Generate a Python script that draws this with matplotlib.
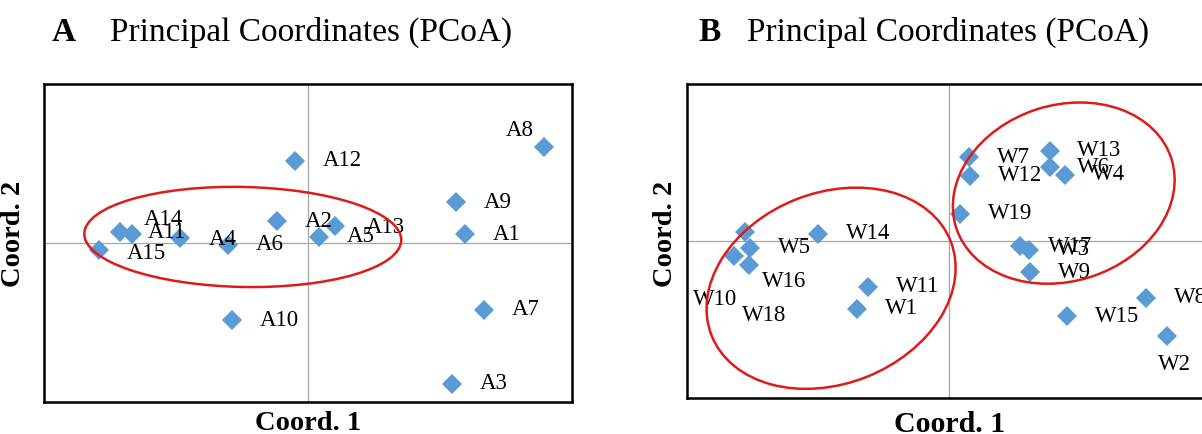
import matplotlib
matplotlib.use("Agg")
import matplotlib.pyplot as plt
from matplotlib.patches import Ellipse
from matplotlib.transforms import ScaledTranslation

# ---------------- data ----------------
a_labels = ["A1", "A2", "A3", "A4", "A5", "A6", "A7", "A8", "A9", "A10",
            "A11", "A12", "A13", "A14", "A15"]
a_x = [0.594, -0.119, 0.547, -0.486, 0.040, -0.303, 0.668, 0.895, 0.562, -0.288,
       -0.711, -0.051, 0.102, -0.665, -0.793]
a_y = [0.055, 0.136, -0.886, 0.034, 0.038, -0.010, -0.420, 0.604, 0.256, -0.487,
       0.067, 0.516, 0.105, 0.059, -0.046]

w_labels = ["W1", "W2", "W3", "W4", "W5", "W6", "W7", "W8", "W9", "W10",
            "W11", "W12", "W13", "W14", "W15", "W16", "W17", "W18", "W19"]
w_x = [-0.350, 0.832, 0.305, 0.441, -0.758, 0.384, 0.076, 0.751, 0.310, -0.780,
       -0.308, 0.081, 0.384, -0.500, 0.450, -0.763, 0.272, -0.822, 0.043]
w_y = [-0.432, -0.602, -0.055, 0.422, -0.044, 0.470, 0.534, -0.362, -0.199, 0.055,
       -0.292, 0.415, 0.576, 0.047, -0.479, -0.150, -0.034, -0.097, 0.174]

# ---------------- styles ----------------
SERIF = ["Liberation Serif", "DejaVu Serif"]
BLUE = "#5B9BD5"
RED = "#DD1C1A"
DEFAULT_OFF = (20, 0)
a_offsets = {"A8": (-28, 12), "A11": (20, 0), "A14": (8, 10), "A15": (20, -2),
             "A4": (21, -1.5), "A13": (22, -1)}
w_offsets = {"W2": (-6.5, -21), "W16": (9, -12), "W18": (6, -43), "W10": (-37, -48)}

W, H = 1202, 434
fig = plt.figure(figsize=(W / 100, H / 100), dpi=100)


def px_axes(x0, y0, x1, y1):
    return fig.add_axes([x0 / W, 1 - y1 / H, (x1 - x0) / W, (y1 - y0) / H])


def panel(ax, labels, xs, ys, offsets, ellipses):
    ax.set_xlim(-1, 1)
    ax.set_ylim(-1, 1)
    ax.set_xticks([])
    ax.set_yticks([])
    for s in ax.spines.values():
        s.set_linewidth(1.8)
        s.set_color("black")
    ax.axhline(0, color="#A6A6A6", lw=0.9, zorder=1)
    ax.axvline(0, color="#A6A6A6", lw=0.9, zorder=1)
    ax.plot(xs, ys, linestyle="none", marker="D", markersize=10.5,
            markerfacecolor=BLUE, markeredgewidth=0, zorder=3)
    for lab, x, y in zip(labels, xs, ys):
        off = offsets.get(lab, DEFAULT_OFF)
        ax.annotate(lab, (x, y), xytext=off, textcoords="offset points",
                    ha="left", va="center", fontsize=16.5, family=SERIF,
                    color="black", zorder=4)
    for cx, cy, w_in, h_in, ang in ellipses:
        tr = fig.dpi_scale_trans + ScaledTranslation(cx, cy, ax.transData)
        e = Ellipse((0, 0), w_in, h_in, angle=ang, transform=tr,
                    fill=False, edgecolor=RED, lw=1.8, zorder=5)
        ax.add_patch(e)
        e.set_clip_on(False)


axA = px_axes(44, 84, 572, 402)
axB = px_axes(687, 84, 1211, 398)

panel(axA, a_labels, a_x, a_y, a_offsets,
      [(-0.247, 0.038, 3.17, 1.00, -1.2)])
panel(axB, w_labels, w_x, w_y, w_offsets,
      [(-0.450, -0.301, 2.57, 1.91, 21.6),
       (0.438, 0.305, 2.26, 1.76, 17.8)])

# titles
for x_letter, x_text, letter in [(52, 110, "A"), (698, 747, "B")]:
    fig.text(x_letter / W, 1 - 41 / H, letter, ha="left", va="baseline",
             fontsize=24, fontweight="bold", family=SERIF)
    fig.text(x_text / W, 1 - 41 / H, "Principal Coordinates (PCoA)", ha="left",
             va="baseline", fontsize=24, family=SERIF)

# axis labels
fig.text(308 / W, 1 - 424 / H, "Coord. 1", ha="center", va="center",
         fontsize=20.5, fontweight="bold", family=SERIF)
fig.text(950 / W, 1 - 424 / H, "Coord. 1", ha="center", va="center",
         fontsize=21.5, fontweight="bold", family=SERIF)
fig.text(13 / W, 1 - 234 / H, "Coord. 2", ha="center", va="center", rotation=90,
         fontsize=20.5, fontweight="bold", family=SERIF)
fig.text(665 / W, 1 - 234 / H, "Coord. 2", ha="center", va="center", rotation=90,
         fontsize=20.5, fontweight="bold", family=SERIF)

fig.savefig("out.png", dpi=100)
